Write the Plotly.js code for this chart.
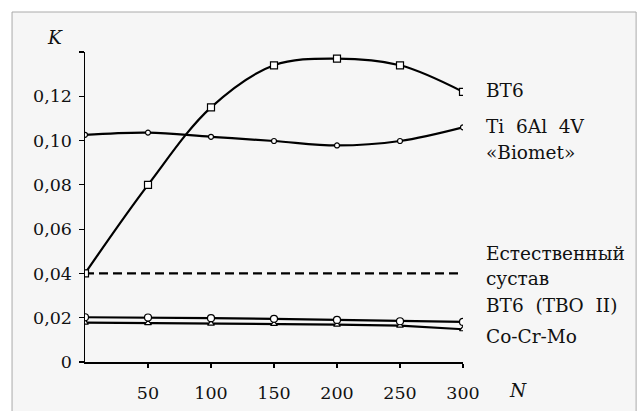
<!DOCTYPE html>
<html>
<head>
<meta charset="utf-8">
<script src="https://cdn.plot.ly/plotly-3.0.1.min.js"></script>
<style>html,body{margin:0;padding:0;background:#fff;}#chart{width:638px;height:411px;}</style>
</head>
<body>
<div id="chart"></div>
<script>
const cycles = [0, 50, 100, 150, 200, 250, 300];
const bt6 = [0.040, 0.080, 0.115, 0.134, 0.137, 0.134, 0.122];
const ti6al4v = [0.1026, 0.1036, 0.1017, 0.0998, 0.0978, 0.0998, 0.106];
const naturalJoint = [0.040, 0.040, 0.040, 0.040, 0.040, 0.040, 0.040];
const bt6Tbo = [0.0202, 0.0201, 0.0198, 0.0195, 0.0190, 0.0184, 0.0181];
const coCrMo = [0.0178, 0.0176, 0.0173, 0.0172, 0.0169, 0.0164, 0.0148];
const yTickVals = [0, 0.02, 0.04, 0.06, 0.08, 0.10, 0.12, 0.14];
const yTickText = ['0', '0,02', '0,04', '0,06', '0,08', '0,10', '0,12', ''];
const xTickVals = [50, 100, 150, 200, 250, 300];
const xTickText = ['50', '100', '150', '200', '250', '300'];

const FONT = 'DejaVu Serif';
const FS = 18.5;
const TFS = 17.5;
const mk = (sym, size) => ({symbol: sym, size: size, color: '#fff', line: {color: '#000', width: 1.2}});
const traces = [
  {x: cycles, y: naturalJoint, mode: 'lines', line: {color: '#000', width: 2.2, dash: '9px,5px'}, name: 'Естественный сустав'},
  {x: cycles, y: bt6, mode: 'lines+markers', line: {color: '#000', width: 2.2, shape: 'spline', smoothing: 1}, marker: mk('square', 7), name: 'ВТ6'},
  {x: cycles, y: ti6al4v, mode: 'lines+markers', line: {color: '#000', width: 2.2, shape: 'spline', smoothing: 1}, marker: mk('circle', 5), name: 'Ti 6Al 4V «Biomet»'},
  {x: cycles, y: coCrMo, mode: 'lines+markers', line: {color: '#000', width: 2.2}, marker: mk('triangle-up', 6), name: 'Co-Cr-Mo'},
  {x: cycles, y: bt6Tbo, mode: 'lines+markers', line: {color: '#000', width: 2.2}, marker: mk('circle', 7), name: 'ВТ6 (ТВО II)'}
];

const labelFont = {family: FONT, size: FS, color: '#111'};
const lab = (text, y) => ({xref: 'paper', yref: 'y', x: 1.0556, y: y, xanchor: 'left', yanchor: 'middle', text: text, showarrow: false, font: labelFont});

const layout = {
  width: 638, height: 411,
  margin: {l: 85, r: 175, t: 52, b: 49},
  paper_bgcolor: '#fff',
  plot_bgcolor: 'rgba(0,0,0,0)',
  showlegend: false,
  font: {family: FONT, size: FS, color: '#111'},
  xaxis: {
    range: [0, 300], tickvals: xTickVals, ticktext: xTickText,
    showgrid: false, zeroline: false, showline: true, linecolor: '#000', linewidth: 1.5,
    ticks: 'outside', ticklen: 4, tickcolor: '#000', tickwidth: 1.2,
    ticklabelstandoff: 10, tickfont: {family: FONT, size: TFS, color: '#111'}
  },
  yaxis: {
    range: [0, 0.14], tickvals: yTickVals, ticktext: yTickText,
    showgrid: false, zeroline: false, showline: true, linecolor: '#000', linewidth: 1.5,
    ticks: 'outside', ticklen: 5, tickcolor: '#000', tickwidth: 1.2,
    ticklabelstandoff: 3, tickfont: {family: FONT, size: TFS, color: '#111'}
  },
  shapes: [
    {type: 'rect', xref: 'paper', yref: 'paper', x0: -0.193, x1: 1.458, y0: -0.2, y1: 1.129,
     fillcolor: '#f6f6f6', line: {color: '#aaa', width: 1}, layer: 'below'}
  ],
  annotations: [
    {xref: 'paper', yref: 'paper', x: -0.079, y: 1.048, text: '<i>K</i>', showarrow: false, xanchor: 'center', yanchor: 'middle', font: labelFont},
    {xref: 'paper', yref: 'paper', x: 1.1455, y: -0.0935, text: '<i>N</i>', showarrow: false, xanchor: 'center', yanchor: 'middle', font: labelFont},
    lab('ВТ6', 0.1228),
    lab('Ti  6Al  4V', 0.1063),
    lab('«Biomet»', 0.0947),
    lab('Естественный', 0.0488),
    lab('сустав', 0.0375),
    lab('ВТ6  (ТВО  II)', 0.0253),
    lab('Co-Cr-Mo', 0.0113)
  ]
};

Plotly.newPlot('chart', traces, layout, {displayModeBar: false, staticPlot: true});
</script>
</body>
</html>
